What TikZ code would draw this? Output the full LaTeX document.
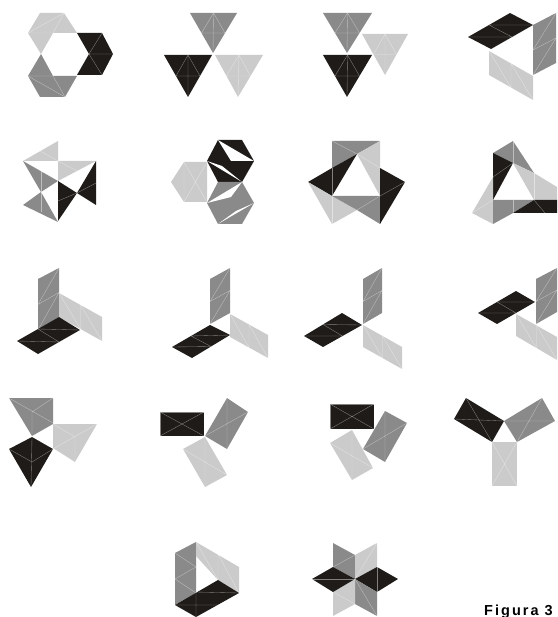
\documentclass[tikz,border=0pt]{standalone}
\usepackage{fontspec}
\setmainfont{Liberation Sans}
\usetikzlibrary{calc}
\definecolor{bk}{HTML}{1E1B18}
\definecolor{dg}{HTML}{8A8A8A}
\definecolor{lg}{HTML}{CBCBCB}
\tikzset{fold/.style={draw=white,draw opacity=0.45,line width=0.35pt}}
% down/up triangle with midpoint folds
\newcommand\dtri[4]{\fill[#1] #2--#3--#4--cycle;
  \draw[fold] ($#2!.5!#3$)--($#2!.5!#4$)--($#3!.5!#4$)--cycle ($#2!.5!#3$)--#4;}
% parallelogram A B C D, AB long side
\newcommand\para[5]{\fill[#1] #2--#3--#4--#5--cycle;
  \draw[fold] ($#2!.5!#3$)--($#5!.5!#4$) #2--($#5!.5!#4$) ($#2!.5!#3$)--#4;}
% quad with X diagonals
\newcommand\quadx[5]{\fill[#1] #2--#3--#4--#5--cycle;
  \draw[fold] #2--#4 #3--#5;}
\begin{document}
\begin{tikzpicture}[x=1pt,y=-1pt]
\useasboundingbox (0,0) rectangle (557,617);
% ---------- Fig 1
\fill[lg] (28,33)--(40,13)--(64,13)--(77,33)--(53,33)--(41,54)--cycle;
\draw[fold] (28,33)--(64,13) (64,13)--(53,33) (28,33)--(53,33);
\fill[bk] (77,33)--(102,33)--(113,54)--(102,75)--(77,75)--(89,54)--cycle;
\draw[fold] (89,54)--(102,33) (89,54)--(113,54) (89,54)--(102,75);
\fill[dg] (41,54)--(53,76)--(77,76)--(65,97)--(40,97)--(28,76)--cycle;
\draw[fold] (28,76)--(53,76) (28,76)--(65,97) (53,76)--(65,97);
% ---------- Fig 2
\dtri{dg}{(190,13)}{(237,13)}{(213,53)}
\dtri{bk}{(164,55)}{(212,55)}{(188,97)}
\dtri{lg}{(215,55)}{(263,55)}{(238,97)}
% ---------- Fig 3
\dtri{dg}{(323,13)}{(372,13)}{(347,53)}
\dtri{lg}{(362,34)}{(408,34)}{(385,75)}
\dtri{bk}{(323,55)}{(372,55)}{(347,97)}
% ---------- Fig 4
\para{bk}{(468,37)}{(510,13)}{(533,25)}{(491,49)}
\para{lg}{(489,51)}{(533,76)}{(533,100)}{(489,75)}
\para{dg}{(533,75)}{(533,25)}{(556,13)}{(556,63)}
% ---------- Fig 5
\fill[lg] (23,161)--(58,141)--(58,161)--cycle;
\draw[fold] (40,151)--(58,161);
\fill[lg] (58,161)--(96,161)--(58,181)--cycle;
\draw[fold] (77,171)--(58,161);
\fill[dg] (23,161)--(58,181)--(41,192)--cycle;
\draw[fold] (41,171)--(41,192);
\fill[dg] (23,205)--(41,192)--(58,222)--cycle;
\draw[fold] (41,192)--(41,212);
\fill[bk] (58,181)--(77,193)--(58,221)--cycle;
\draw[fold] (58,201)--(77,193);
\fill[bk] (77,193)--(96,161)--(96,205)--cycle;
\draw[fold] (77,193)--(96,183);
% ---------- Fig 6
\fill[lg] (184,162)--(207,162)--(207,202)--(184,202)--(171,182)--cycle;
\draw[fold] (184,162)--(184,202) (184,162)--(207,202) (207,162)--(184,202);
\fill[bk] (207,161)--(218,140)--(242,140)--(254,161)--(242,182)--(218,182)--cycle;
\fill[white] (218,140)--(254,161)--(231,161)--cycle;
\fill[white] (207,161)--(242,182)--(222,166)--cycle;
\fill[dg] (207,203)--(218,182)--(242,182)--(254,203)--(242,224)--(218,224)--cycle;
\fill[white] (207,203)--(242,182)--(231,197)--cycle;
\fill[white] (218,224)--(254,203)--(236,211)--cycle;
% ---------- Fig 7
\fill[dg] (332,141)--(380,141)--(357,154)--(332,168)--cycle;
\draw[fold] (332,141)--(357,154);
\fill[lg] (380,141)--(380,196)--(357,154)--cycle;
\draw[fold] (380,168)--(357,154);
\fill[bk] (308,182)--(332,168)--(357,154)--(332,196)--cycle;
\draw[fold] (332,168)--(332,196);
\fill[lg] (308,182)--(332,196)--(357,210)--(332,224)--cycle;
\draw[fold] (332,196)--(332,224);
\fill[dg] (332,196)--(380,196)--(380,224)--(357,210)--cycle;
\draw[fold] (357,210)--(380,196);
\fill[bk] (380,168)--(405,182)--(380,224)--cycle;
\draw[fold] (380,196)--(405,182);
% ---------- Fig 8
\fill[dg] (493,153)--(513,141)--(534,173)--(513,163)--cycle;
\draw[fold] (513,141)--(513,163);
\fill[bk] (493,153)--(513,163)--(493,200)--cycle;
\draw[fold] (493,177)--(513,163);
\fill[lg] (513,163)--(534,173)--(557,187)--(557,200)--(534,200)--cycle;
\draw[fold] (534,173)--(534,200);
\fill[lg] (472,213)--(493,177)--(493,224)--cycle;
\draw[fold] (472,213)--(493,200);
\fill[dg] (493,200)--(534,200)--(513,213)--(493,224)--cycle;
\draw[fold] (513,200)--(513,213);
\fill[bk] (513,213)--(534,200)--(557,200)--(557,213)--cycle;
\draw[fold] (534,200)--(545,213);
% ---------- Fig 9
\para{dg}{(38,330)}{(38,279)}{(59,268)}{(59,317)}
\para{lg}{(59,293)}{(102,317)}{(102,341)}{(59,317)}
\para{bk}{(17,341)}{(59,317)}{(80,330)}{(38,354)}
% ---------- Fig 10
\para{dg}{(210,324)}{(210,279)}{(230,268)}{(230,313)}
\para{lg}{(230,314)}{(268,335)}{(268,358)}{(230,337)}
\para{bk}{(172,347)}{(210,325)}{(230,335)}{(192,358)}
% ---------- Fig 11
\para{dg}{(363,324)}{(363,279)}{(382,268)}{(382,313)}
\para{bk}{(304,336)}{(342,313)}{(362,325)}{(323,347)}
\para{lg}{(363,325)}{(402,347)}{(402,369)}{(363,347)}
% ---------- Fig 12
\para{bk}{(478,313)}{(516,291)}{(535,302)}{(497,324)}
\para{dg}{(536,324)}{(536,279)}{(557,268)}{(557,312)}
\para{lg}{(516,314)}{(557,337)}{(557,360)}{(516,336)}
% ---------- Fig 13
\fill[dg] (9,398)--(53,398)--(53,424)--(32,436)--cycle;
\draw[fold] (9,398)--(53,423) (53,398)--(32,412)--(32,436);
\fill[lg] (53,424)--(97,424)--(75,462)--(53,448)--cycle;
\draw[fold] (53,424)--(75,437)--(75,462) (97,424)--(53,449);
\fill[bk] (9,449)--(32,437)--(53,449)--(31,487)--cycle;
\draw[fold] (9,449)--(32,462)--(53,449) (32,437)--(31,487);
% ---------- Fig 14
\quadx{bk}{(160,412)}{(204,412)}{(204,436)}{(160,436)}
\draw[fold] (160,412) rectangle (204,436);
\quadx{dg}{(205,436)}{(227,398)}{(248,412)}{(227,449)}
\quadx{lg}{(183,449)}{(205,437)}{(227,475)}{(205,487)}
% ---------- Fig 15
\quadx{bk}{(330,404)}{(374,404)}{(374,429)}{(330,429)}
\draw[fold] (330,404) rectangle (374,429);
\quadx{dg}{(363,449)}{(385,411)}{(407,423)}{(385,462)}
\quadx{lg}{(330,443)}{(352,430)}{(373,468)}{(352,480)}
% ---------- Fig 16
\quadx{bk}{(454,419)}{(466,398)}{(504,421)}{(492,442)}
\quadx{dg}{(504,421)}{(542,398)}{(555,421)}{(517,442)}
\quadx{lg}{(492,442)}{(517,442)}{(517,486)}{(492,486)}
% ---------- Fig 17
\fill[dg] (175,553)--(196,542)--(196,593)--(175,605)--cycle;
\draw[fold] (175,553)--(196,567) (175,579)--(196,567) (175,579)--(196,593);
\fill[lg] (196,542)--(239,567)--(239,593)--(218,580)--(196,556)--cycle;
\draw[fold] (218,554)--(218,580) (196,542)--(218,580) (218,554)--(239,593);
\fill[bk] (175,605)--(218,580)--(239,593)--(196,617)--cycle;
\draw[fold] (196,592)--(196,617) (196,592)--(239,593) (175,605)--(218,605);
% ---------- Fig 18
\coordinate (c) at (355,579);
\fill[dg] (c)--(333,567)--(333,543)--(355,555)--cycle;
\draw[fold] (333,567)--(355,555);
\fill[lg] (c)--(355,555)--(377,543)--(377,567)--cycle;
\draw[fold] (c)--(377,543);
\fill[bk] (c)--(377,567)--(398,579)--(377,592)--cycle;
\draw[fold] (377,567)--(377,592);
\fill[dg] (c)--(377,592)--(377,616)--(355,604)--cycle;
\draw[fold] (c)--(377,616);
\fill[lg] (c)--(355,604)--(333,616)--(333,592)--cycle;
\draw[fold] (355,604)--(333,592);
\fill[bk] (c)--(333,592)--(312,579)--(333,567)--cycle;
\draw[fold] (c)--(312,579);
% ---------- caption
\node[anchor=base east,inner sep=0pt] (cap) at (553,615)
  {\fontsize{14.5}{15}\selectfont\bfseries\addfontfeature{LetterSpace=14}Figura 3};
\end{tikzpicture}
\end{document}
